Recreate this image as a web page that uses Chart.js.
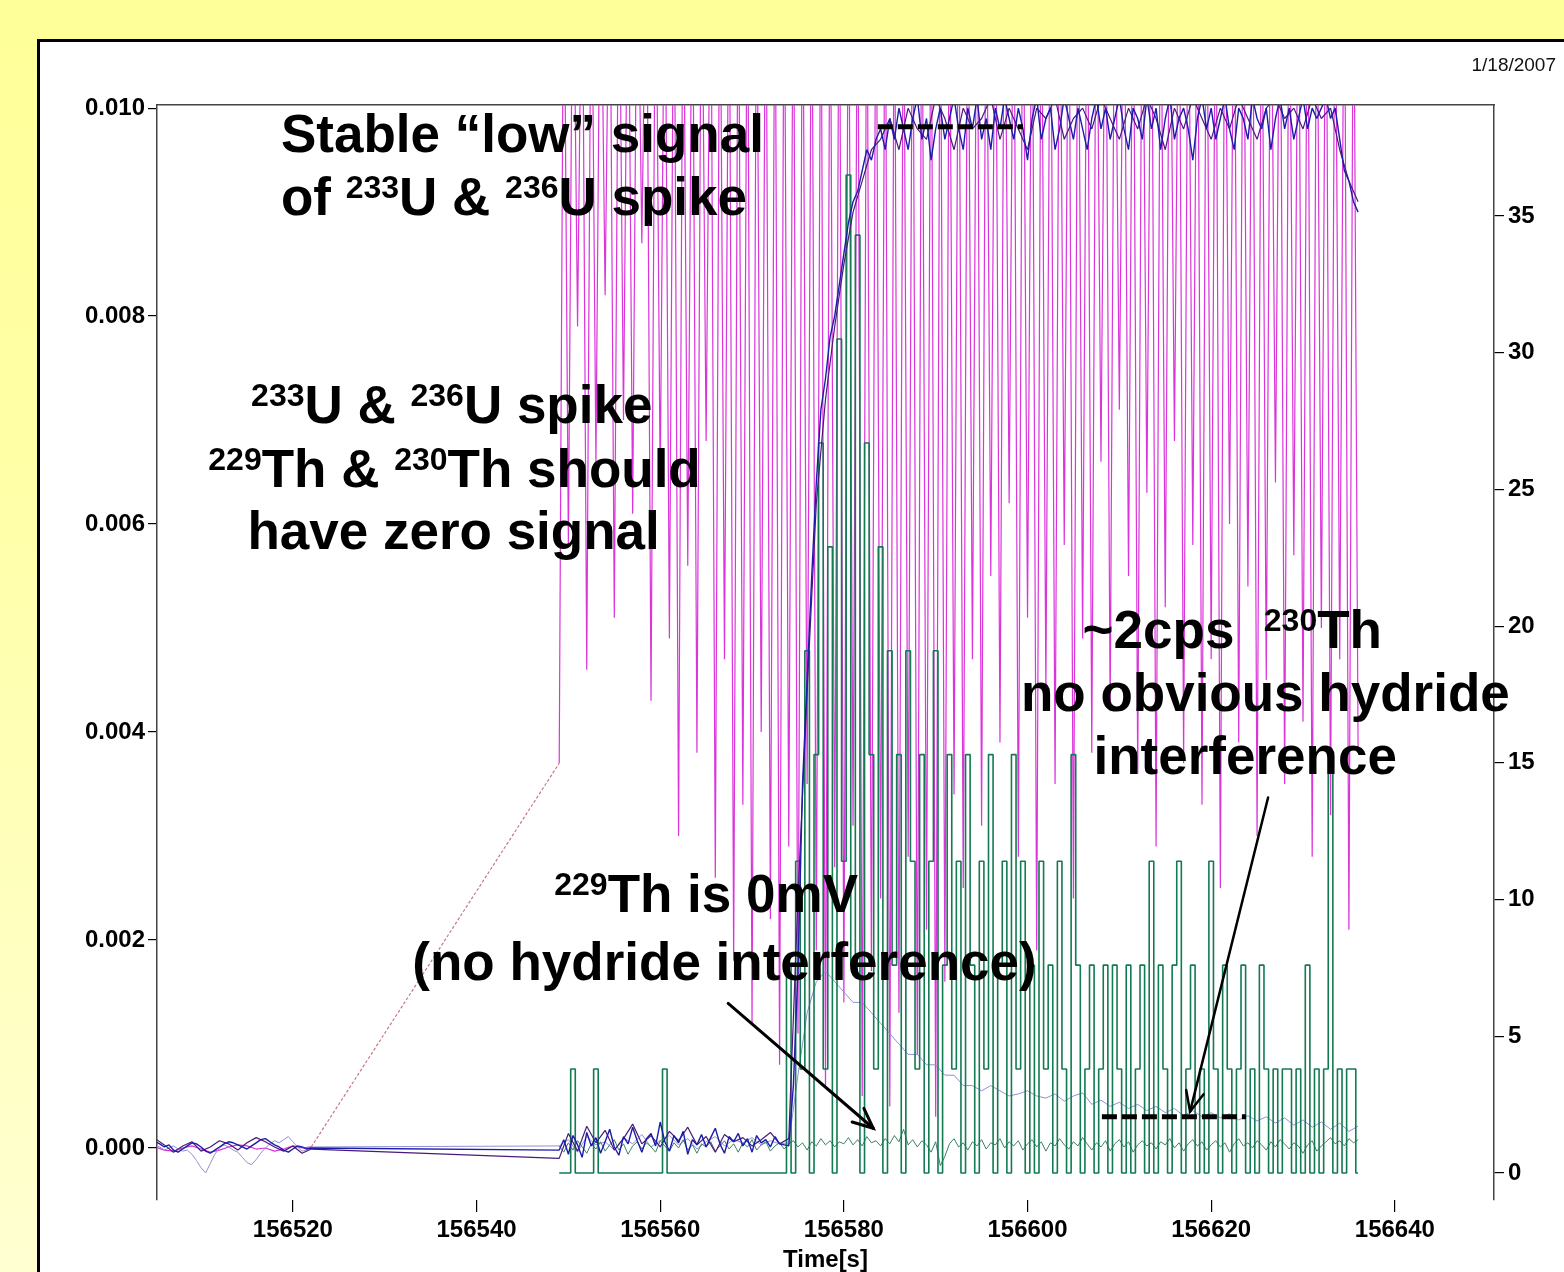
<!DOCTYPE html>
<html>
<head>
<meta charset="utf-8">
<script src="https://cdn.jsdelivr.net/npm/chart.js@4.4.1/dist/chart.umd.min.js"></script>
<style>
  html, body { margin: 0; padding: 0; }
  body {
    width: 1564px; height: 1272px; overflow: hidden; position: relative;
    background: linear-gradient(to bottom, #ffff99 0%, #ffffa6 35%, #ffffd2 100%);
  }
  #panel {
    position: absolute; left: 37px; top: 39px; width: 1560px; height: 1260px;
    background: #fff; border-left: 3px solid #000; border-top: 3px solid #000;
  }
  #chart { position: absolute; left: 0; top: 0; }
</style>
</head>
<body>
<div id="panel"></div>
<canvas id="chart" width="1564" height="1272"></canvas>
<script>
// axis ticks
const timeTicks = [156520, 156540, 156560, 156580, 156600, 156620, 156640];
const leftTicks = [0, 0.002, 0.004, 0.006, 0.008, 0.010];
const rightTicks = [0, 5, 10, 15, 20, 25, 30, 35];

// two logged blocks, joined by a straight line over the gap
const earlyStart = 156505;
const activeStart = 156549;

// blue trace (left axis), every 0.5 s
const blueEarly = [
  0.00006, 0.00004, 0.00001, 0.00003, -0.00002,
  -0.00004, -0.00001, 0.00002, 0.00005, 0.00004,
  0.00001, -0.00003, -0.00005, -0.00002, 0.00001,
  0.00004, 0.00006, 0.00005, 0.00003, 0.00001,
  -0.00001, 0.00002, 0.00005, 0.00008, 0.00009,
  0.00006, 0.00003, 0.00001, -0.00002, -0.00004,
  -0.00001, 0.00002, 0.00001, -0.00001, 0.00000
];
const blueActive = [
  -0.00002, 0.00008, -0.00006, 0.00012, 0.00003, -0.00009, 0.00015, 0.00002, 0.00010, -0.00005,
  0.00006, 0.00018, 0.00001, -0.00007, 0.00011, 0.00004, 0.00020, 0.00007, -0.00004, 0.00009,
  0.00014, 0.00002, 0.00025, 0.00006, -0.00003, 0.00012, 0.00005, 0.00016, -0.00006, 0.00008,
  0.00003, 0.00013, 0.00001, 0.00010, 0.00019, 0.00004, -0.00005, 0.00011, 0.00006, 0.00014,
  0.00002, 0.00009, -0.00004, 0.00012, 0.00005, 0.00008, 0.00001, 0.00011, 0.00004, 0.00003,
  0.00002, 0.0006, 0.0017, 0.0035, 0.0045, 0.0055, 0.0064, 0.0071, 0.0074, 0.0078,
  0.0080, 0.0083, 0.0086, 0.0089, 0.0091, 0.0092, 0.0094, 0.0096, 0.0095, 0.0097,
  0.0098, 0.0096, 0.0099, 0.0097, 0.0100, 0.0098, 0.0096, 0.0099, 0.0101, 0.0097,
  0.0099, 0.0095, 0.0098, 0.0100, 0.0097, 0.0099, 0.0101, 0.0098, 0.0096, 0.0100,
  0.0098, 0.0101, 0.0097, 0.0099, 0.0096, 0.0100, 0.0098, 0.0101, 0.0099, 0.0097,
  0.0100, 0.0098, 0.0095, 0.0099, 0.0101, 0.0097, 0.0099, 0.0100, 0.0096, 0.0098,
  0.0101, 0.0099, 0.0097, 0.0100, 0.0098, 0.0096, 0.0099, 0.0101, 0.0098, 0.0100,
  0.0097, 0.0099, 0.0101, 0.0098, 0.0096, 0.0100, 0.0099, 0.0097, 0.0101, 0.0098,
  0.0100, 0.0096, 0.0099, 0.0101, 0.0097, 0.0099, 0.0100, 0.0098, 0.0095, 0.0099,
  0.0101, 0.0098, 0.0100, 0.0097, 0.0099, 0.0101, 0.0098, 0.0096, 0.0100, 0.0099,
  0.0097, 0.0101, 0.0099, 0.0098, 0.0100, 0.0096, 0.0099, 0.0101, 0.0098, 0.0100,
  0.0097, 0.0099, 0.0101, 0.0098, 0.0100, 0.0099, 0.0100, 0.0101, 0.0099, 0.0100,
  0.0097, 0.0094, 0.0093, 0.0091, 0.0090
];

// dark purple trace (left axis), every 1 s
const purpleEarly = [
  0.00009, 0.00003, -0.00004, 0.00002, 0.00006, -0.00003, 0.00001, 0.00007, 0.00004,
  -0.00002, 0.00005, 0.00010, 0.00006, 0.00001, -0.00003, 0.00002, -0.00005, -0.00001
];
const purpleActive = [
  -0.00010, 0.00014, -0.00003, 0.00021, 0.00005, 0.00017, -0.00002, 0.00009, 0.00023, 0.00004,
  0.00012, 0.00001, 0.00016, 0.00007, 0.00020, 0.00003, 0.00011, -0.00004, 0.00013, 0.00006,
  0.00010, 0.00002, 0.00008, 0.00015, 0.00004, 0.00009, 0.0024, 0.0044, 0.0062, 0.0072,
  0.0079, 0.0085, 0.0090, 0.0093, 0.0096, 0.0097, 0.0099, 0.0096, 0.0100, 0.0098,
  0.0097, 0.0101, 0.0099, 0.0096, 0.0100, 0.0098, 0.0099, 0.0101, 0.0097, 0.0100,
  0.0098, 0.0096, 0.0100, 0.0099, 0.0101, 0.0097, 0.0099, 0.0100, 0.0098, 0.0101,
  0.0099, 0.0097, 0.0100, 0.0098, 0.0101, 0.0099, 0.0096, 0.0100, 0.0098, 0.0101,
  0.0099, 0.0097, 0.0100, 0.0098, 0.0101, 0.0099, 0.0097, 0.0100, 0.0101, 0.0099,
  0.0100, 0.0098, 0.0101, 0.0099, 0.0100, 0.0096, 0.0093, 0.0091
];

// pale blue trace (left axis): early every 0.5 s, later every 1 s
const paleEarly = [
  0.00003, 0.00001, -0.00002, 0.00000, 0.00002,
  -0.00001, -0.00003, -0.00002, -0.00006, -0.00012,
  -0.00019, -0.00024, -0.00015, -0.00006, 0.00000,
  0.00003, 0.00001, -0.00002, -0.00004, -0.00009,
  -0.00014, -0.00016, -0.00011, -0.00005, 0.00000,
  0.00004, 0.00007, 0.00005, 0.00008, 0.00011,
  0.00006, 0.00001, -0.00003, -0.00002, 0.00001
];
const paleActive = [
  0.00002, 0.00008, -0.00004, 0.00011, 0.00003, 0.00006, -0.00002, 0.00010, 0.00004, 0.00013,
  0.00001, 0.00007, 0.00012, 0.00003, 0.00009, -0.00001, 0.00006, 0.00011, 0.00002, 0.00008,
  0.00005, 0.00010, 0.00003, 0.00007, 0.00004, 0.00005, 0.0007, 0.0013, 0.0016, 0.0017,
  0.0016, 0.0015, 0.0014, 0.0014, 0.0013, 0.0012, 0.0011, 0.0010, 0.0009, 0.0009,
  0.0008, 0.0008, 0.0007, 0.0007, 0.0006, 0.0006, 0.00055, 0.0006, 0.00055, 0.0005,
  0.00052, 0.00055, 0.0005, 0.00048, 0.00052, 0.00045, 0.0005, 0.00053, 0.00042, 0.00046,
  0.0004, 0.00044, 0.00038, 0.00042, 0.00036, 0.0004, 0.00034, 0.00038, 0.00031, 0.00036,
  0.0003, 0.00034, 0.00029, 0.00033, 0.00027, 0.00031, 0.00026, 0.0003, 0.00024, 0.00029,
  0.00022, 0.00027, 0.0002, 0.00025, 0.00018, 0.00024, 0.00016, 0.00021
];

// 229Th in mV (left axis), every 0.5 s
const th229 = [
  0.00002, -0.00004, 0.00005, -0.00002, 0.00007, 0.00001, -0.00005, 0.00004, -0.00001, 0.00006,
  -0.00003, 0.00003, 0.00008, -0.00002, 0.00004, -0.00006, 0.00002, 0.00006, -0.00001, 0.00005,
  0.00001, -0.00004, 0.00007, 0.00002, -0.00003, 0.00005, 0.00000, 0.00008, -0.00002, 0.00003,
  -0.00005, 0.00004, 0.00001, 0.00006, -0.00003, 0.00002, 0.00007, -0.00001, 0.00004, -0.00004,
  0.00005, 0.00001, 0.00008, -0.00002, 0.00003, 0.00006, -0.00003, 0.00002, 0.00005, -0.00001,
  0.00004, 0.00007, 0.00001, 0.00005, -0.00002, 0.00006, 0.00002, 0.00009, 0.00003, 0.00007,
  0.00001, 0.00006, 0.00004, 0.00010, 0.00003, 0.00008, 0.00002, 0.00011, 0.00005, 0.00007,
  0.00002, 0.00009, 0.00004, 0.00012, 0.00006, 0.00018, 0.00003, 0.00008, 0.00001, 0.00007,
  0.00003, -0.00004, 0.00006, -0.00017, -0.00008, 0.00004, 0.00009, 0.00001, 0.00005, -0.00002,
  0.00006, 0.00002, 0.00008, -0.00001, 0.00005, 0.00003, 0.00009, 0.00000, 0.00006, 0.00002,
  0.00007, -0.00002, 0.00004, 0.00008, 0.00001, 0.00006, -0.00003, 0.00005, 0.00002, 0.00009,
  0.00003, -0.00001, 0.00006, 0.00002, 0.00010, 0.00004, -0.00002, 0.00005, 0.00001, 0.00007,
  -0.00003, 0.00004, 0.00008, 0.00001, 0.00006, -0.00004, 0.00003, 0.00007, 0.00002, 0.00005,
  -0.00001, 0.00006, 0.00003, 0.00009, 0.00000, 0.00005, -0.00003, 0.00004, 0.00008, 0.00002,
  0.00006, -0.00002, 0.00003, 0.00007, 0.00001, 0.00005, -0.00004, 0.00004, 0.00009, 0.00002,
  0.00005, 0.00000, 0.00007, 0.00003, -0.00002, 0.00006, 0.00001, 0.00008, 0.00004, -0.00001,
  0.00005, 0.00002, -0.00005, 0.00003, 0.00007, -0.00003, 0.00002, 0.00006, 0.00010, 0.00004,
  0.00007, 0.00002, 0.00009, 0.00005, 0.00008
];

// 230Th counts (right axis, cps), every 0.5 s
const th230Cps = [
  0, 0, 0, 3.8, 0, 0, 0, 0, 3.8, 0,
  0, 0, 0, 0, 0, 0, 0, 0, 0, 0,
  0, 0, 0, 3.8, 0, 0, 0, 0, 0, 0,
  0, 0, 0, 0, 0, 0, 0, 0, 0, 0,
  0, 0, 0, 0, 0, 0, 0, 0, 0, 0,
  7.6, 0, 11.4, 3.8, 19.1, 0, 15.3, 26.7, 3.8, 22.9,
  0, 30.5, 11.4, 36.5, 7.6, 34.3, 0, 26.7, 15.3, 3.8,
  22.9, 0, 19.1, 7.6, 15.3, 0, 19.1, 11.4, 3.8, 15.3,
  0, 11.4, 19.1, 0, 7.6, 15.3, 3.8, 11.4, 0, 15.3,
  7.6, 0, 11.4, 3.8, 15.3, 0, 7.6, 11.4, 0, 15.3,
  3.8, 11.4, 0, 7.6, 0, 11.4, 3.8, 7.6, 0, 11.4,
  3.8, 0, 15.3, 7.6, 0, 3.8, 7.6, 0, 3.8, 7.6,
  0, 7.6, 3.8, 0, 7.6, 0, 3.8, 7.6, 0, 11.4,
  0, 7.6, 3.8, 0, 7.6, 11.4, 0, 3.8, 7.6, 0,
  3.8, 0, 11.4, 3.8, 0, 7.6, 3.8, 0, 3.8, 7.6,
  0, 3.8, 0, 7.6, 3.8, 0, 3.8, 0, 3.8, 3.8,
  0, 3.8, 0, 7.6, 0, 3.8, 0, 3.8, 15.3, 0,
  3.8, 0, 3.8, 3.8, 0
];

// magenta trace (left axis): OFF marks readings above the plotted range
const OFF = 0.012;
const magentaEarly = [
  0.00001, -0.00002, -0.00003, 0.00000, 0.00002, -0.00001, -0.00004, -0.00002, 0.00001,
  0.00003, 0.00002, -0.00001, 0.00000, -0.00003, -0.00001, 0.00002, 0.00000, 0.00001
];
const magentaActive = [
  0.0037, OFF, 0.0058, OFF, 0.0079, OFF, 0.0046, OFF, 0.0066, OFF,
  0.0082, OFF, 0.0051, OFF, 0.0070, OFF, 0.0061, OFF, 0.0087, OFF,
  0.0043, OFF, 0.0064, OFF, 0.0049, OFF, 0.0030, OFF, 0.0056, OFF,
  0.0038, OFF, 0.0068, OFF, 0.0026, OFF, 0.0047, OFF, 0.0018, OFF,
  0.0033, OFF, 0.0012, OFF, 0.0040, OFF, 0.0022, OFF, 0.0008, OFF,
  0.0029, OFF, 0.0011, OFF, 0.0035, OFF, 0.0019, OFF, 0.0006, OFF,
  0.0027, OFF, 0.0014, OFF, 0.0031, OFF, 0.0005, OFF, 0.0017, OFF,
  0.0024, OFF, 0.0004, OFF, 0.0013, OFF, 0.0028, OFF, 0.0009, OFF,
  0.0021, OFF, 0.0003, OFF, 0.0016, OFF, 0.0034, OFF, 0.0025, OFF,
  0.0047, OFF, 0.0031, OFF, 0.0055, OFF, 0.0039, OFF, 0.0062, OFF,
  0.0028, OFF, 0.0051, OFF, 0.0019, OFF, 0.0044, OFF, 0.0035, OFF,
  0.0058, OFF, 0.0024, OFF, 0.0049, OFF, 0.0038, OFF, 0.0066, OFF,
  0.0042, OFF, 0.0071, OFF, 0.0055, OFF, 0.0036, OFF, 0.0063, OFF,
  0.0029, OFF, 0.0052, OFF, 0.0068, OFF, 0.0037, OFF, 0.0058, OFF,
  0.0033, OFF, 0.0047, OFF, 0.0025, OFF, 0.0060, OFF, 0.0039, OFF,
  0.0054, OFF, 0.0030, OFF, 0.0045, OFF, 0.0064, OFF, 0.0035, OFF,
  0.0057, OFF, 0.0041, OFF, 0.0028, OFF, 0.0050, OFF, 0.0032, OFF,
  0.0047, OFF, 0.0021, OFF, 0.0038
];

// text placed in data units (time, left axis)
const notes = [
  { t: 156518.7, v: 0.00958, align: 'left', parts: [['Stable \u201Clow\u201D signal']] },
  { t: 156518.7, v: 0.00897, align: 'left', parts: [['of '], ['233', 1], ['U & '], ['236', 1], ['U spike']] },
  { t: 156537.3, v: 0.00697, parts: [['233', 1], ['U & '], ['236', 1], ['U spike']] },
  { t: 156537.6, v: 0.00636, parts: [['229', 1], ['Th & '], ['230', 1], ['Th should']] },
  { t: 156537.5, v: 0.00576, parts: [['have zero signal']] },
  { t: 156622.3, v: 0.00481, parts: [['~2cps  '], ['230', 1], ['Th']] },
  { t: 156625.9, v: 0.00420, parts: [['no obvious hydride']] },
  { t: 156623.7, v: 0.00360, parts: [['interference']] },
  { t: 156565.0, v: 0.00227, parts: [['229', 1], ['Th is 0mV']] },
  { t: 156567.0, v: 0.00162, parts: [['(no hydride interference)']] }
];
const dashMarks = [
  { t1: 156583.7, t2: 156599.5, v: 0.00982 },
  { t1: 156608.1, t2: 156623.8, v: 0.00030 }
];
const arrows = [
  { t1: 156567.4, v1: 0.00139, t2: 156583.2, v2: 0.00019, w: 3 },
  { t1: 156626.2, v1: 0.00337, t2: 156617.7, v2: 0.00035, w: 2.5 }
];

const FONT = '"Liberation Sans", Arial, sans-serif';

function pts(start, step, values) {
  return values.map((v, i) => ({ x: start + i * step, y: v }));
}

function drawRich(ctx, parts, x, y, align) {
  const big = 'bold 53px ' + FONT, sup = 'bold 32px ' + FONT;
  let w = 0;
  parts.forEach(p => { ctx.font = p[1] ? sup : big; w += ctx.measureText(p[0]).width; });
  let cx = align === 'left' ? x : x - w / 2;
  ctx.textAlign = 'left';
  parts.forEach(p => {
    ctx.font = p[1] ? sup : big;
    ctx.fillText(p[0], cx, p[1] ? y - 17 : y);
    cx += ctx.measureText(p[0]).width;
  });
}

function drawArrow(ctx, x1, y1, x2, y2, w) {
  ctx.lineWidth = w;
  ctx.lineCap = 'round';
  ctx.beginPath(); ctx.moveTo(x1, y1); ctx.lineTo(x2, y2); ctx.stroke();
  const a = Math.atan2(y2 - y1, x2 - x1), len = 22, sp = 0.42;
  ctx.beginPath();
  ctx.moveTo(x2 - len * Math.cos(a - sp), y2 - len * Math.sin(a - sp));
  ctx.lineTo(x2, y2);
  ctx.lineTo(x2 - len * Math.cos(a + sp), y2 - len * Math.sin(a + sp));
  ctx.stroke();
}

const notesPlugin = {
  id: 'notes',
  afterDraw(chart) {
    const { ctx, scales: { x, y } } = chart;
    ctx.save();
    ctx.fillStyle = '#000';
    ctx.strokeStyle = '#000';
    ctx.textBaseline = 'alphabetic';
    notes.forEach(n => drawRich(ctx, n.parts, x.getPixelForValue(n.t), y.getPixelForValue(n.v), n.align));

    ctx.lineWidth = 5;
    ctx.lineCap = 'butt';
    ctx.setLineDash([15, 5]);
    dashMarks.forEach(d => {
      const py = y.getPixelForValue(d.v);
      ctx.beginPath();
      ctx.moveTo(x.getPixelForValue(d.t1), py);
      ctx.lineTo(x.getPixelForValue(d.t2), py);
      ctx.stroke();
    });
    ctx.setLineDash([]);
    arrows.forEach(a => drawArrow(ctx, x.getPixelForValue(a.t1), y.getPixelForValue(a.v1),
      x.getPixelForValue(a.t2), y.getPixelForValue(a.v2), a.w));

    ctx.font = '19px ' + FONT;
    ctx.fillStyle = '#111';
    ctx.textAlign = 'right';
    ctx.fillText('1/18/2007', 1556, 71);
    ctx.restore();
  }
};

const isGap = c => c.p1.parsed.x - c.p0.parsed.x > 5;

const tickFont = { family: FONT, size: 24, weight: 'bold' };

new Chart(document.getElementById('chart'), {
  type: 'line',
  data: {
    datasets: [
      { label: 'blue', data: pts(earlyStart, 0.5, blueEarly).concat(pts(activeStart, 0.5, blueActive)),
        borderColor: '#1c1caa', borderWidth: 1.4, yAxisID: 'y' },
      { label: 'purple', data: pts(earlyStart, 1, purpleEarly).concat(pts(activeStart, 1, purpleActive)),
        borderColor: '#4a1a78', borderWidth: 1.2, yAxisID: 'y' },
      { label: '230Th cps', data: pts(activeStart, 0.5, th230Cps),
        borderColor: '#137a52', borderWidth: 1.6, stepped: 'middle', yAxisID: 'y1' },
      { label: '229Th', data: pts(activeStart, 0.5, th229),
        borderColor: '#3d8068', borderWidth: 1, yAxisID: 'y' },
      { label: 'pale', data: pts(earlyStart, 0.5, paleEarly).concat(pts(activeStart, 1, paleActive)),
        borderColor: '#9090d4', borderWidth: 1, yAxisID: 'y' },
      { label: 'magenta', data: pts(earlyStart, 1, magentaEarly).concat(pts(activeStart, 0.5, magentaActive)),
        borderColor: 'rgb(218,52,218)', borderWidth: 1.2, yAxisID: 'y',
        segment: {
          borderColor: c => isGap(c) ? 'rgb(200,120,130)' : undefined,
          borderDash: c => isGap(c) ? [3, 2] : undefined
        } }
    ]
  },
  options: {
    responsive: false,
    animation: false,
    events: [],
    layout: { padding: 0 },
    elements: { point: { radius: 0 }, line: { tension: 0, borderJoinStyle: 'bevel' } },
    plugins: { legend: { display: false }, tooltip: { enabled: false } },
    scales: {
      x: {
        type: 'linear', position: 'bottom', min: 156505.2, max: 156650.8,
        afterBuildTicks: s => { s.ticks = timeTicks.map(v => ({ value: v })); },
        afterFit: s => { s.height = 72; },
        border: { display: false },
        grid: { drawOnChartArea: false, tickLength: 12, color: '#000', lineWidth: 1.2 },
        ticks: { font: tickFont, color: '#000', padding: 4, maxRotation: 0, autoSkip: false,
          callback: v => String(v) },
        title: { display: true, text: 'Time[s]', color: '#000',
          font: { family: FONT, size: 24, weight: 'bold', lineHeight: 1 }, padding: 0 }
      },
      xTop: {
        type: 'linear', position: 'top', min: 156505.2, max: 156650.8,
        afterFit: s => { s.height = 105; },
        ticks: { display: false },
        grid: { display: false },
        border: { display: true, color: '#444', width: 1.5 }
      },
      y: {
        position: 'left', min: -0.0005, max: 0.01003,
        afterBuildTicks: s => { s.ticks = leftTicks.map(v => ({ value: v })); },
        afterFit: s => { s.width = 157; },
        border: { color: '#444', width: 1.5 },
        grid: { drawOnChartArea: false, tickLength: 9, color: '#000', lineWidth: 1.2 },
        ticks: { font: { family: FONT, size: 24, weight: 'bold' }, color: '#000', padding: 3,
          callback: v => v.toFixed(3) }
      },
      y1: {
        position: 'right', min: -0.99, max: 39.06,
        afterBuildTicks: s => { s.ticks = rightTicks.map(v => ({ value: v })); },
        afterFit: s => { s.width = 70; },
        border: { color: '#444', width: 1.5 },
        grid: { drawOnChartArea: false, tickLength: 10, color: '#000', lineWidth: 1.2 },
        ticks: { font: tickFont, color: '#000', padding: 4, callback: v => String(v) }
      }
    }
  },
  plugins: [notesPlugin]
});
</script>
</body>
</html>
